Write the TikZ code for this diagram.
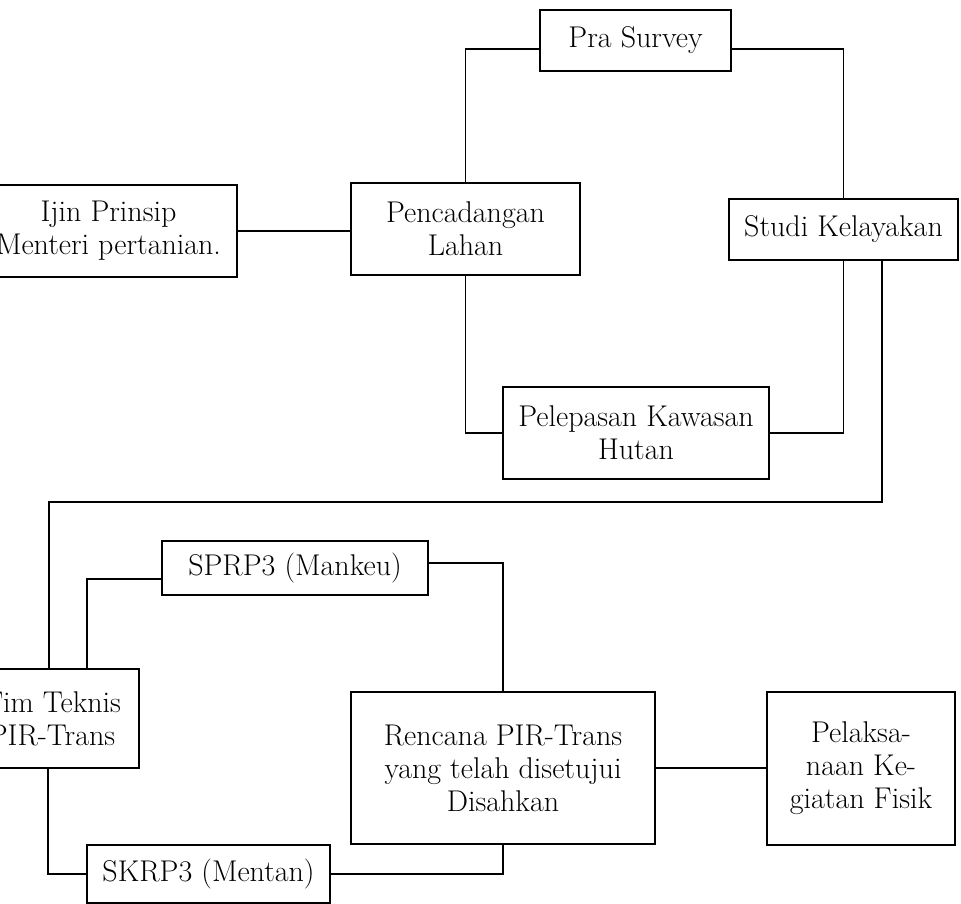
\documentclass[tikz,border=0pt]{standalone}
\begin{document}
\begin{tikzpicture}[x=1pt,y=-1pt,
  box/.style={draw, line width=2.4pt, align=center, inner sep=0pt,
    font=\fontsize{30}{33}\selectfont},
  link/.style={line width=1.8pt}]
\useasboundingbox (0,0) rectangle (961,904);
\clip (0,0) rectangle (961,904);
% boxes
\node[box, minimum width=257pt, minimum height=92pt] (ijin) at (108.5,231) {Ijin Prinsip\\Menteri pertanian.};
\node[box, minimum width=229pt, minimum height=92pt] (penc) at (465.5,229) {Pencadangan\\Lahan};
\node[box, minimum width=191pt, minimum height=61pt] (pra) at (635.5,40.5) {Pra Survey};
\node[box, minimum width=229pt, minimum height=61pt] (studi) at (843.5,229.5) {Studi Kelayakan};
\node[box, minimum width=266pt, minimum height=92pt] (pelep) at (636,433) {Pelepasan Kawasan\\Hutan};
\node[box, minimum width=174pt, minimum height=99pt] (tim) at (52,718.5) {Tim Teknis\\PIR-Trans};
\node[box, minimum width=266pt, minimum height=54pt] (sprp) at (295,568) {SPRP3 (Mankeu)};
\node[box, minimum width=304pt, minimum height=152pt] (renc) at (503,768) {Rencana PIR-Trans\\yang telah disetujui\\Disahkan};
\node[box, minimum width=188pt, minimum height=153pt] (pelak) at (861,768.5) {Pelaksa-\\naan Ke-\\giatan Fisik};
\node[box, minimum width=243pt, minimum height=58pt] (skrp) at (208.5,874) {SKRP3 (Mentan)};
% connectors
\draw[link] (ijin.east) -- (ijin.east -| penc.west);
\draw[link] (penc.north) |- ([yshift=-8.5pt]pra.west);
\draw[link] ([yshift=-8.5pt]pra.east) -| (studi.north);
\draw[link] (penc.south) |- (pelep.west);
\draw[link] (pelep.east) -| (studi.south);
\coordinate (turn) at (49,502);
\draw[link] ([xshift=38.5pt]studi.south) |- (turn) -- (turn |- tim.north);
\draw[link] ([xshift=35pt]tim.north) |- ([yshift=-11pt]sprp.west);
\draw[link] ([yshift=5pt]sprp.east) -| (renc.north);
\draw[link] (renc.south) |- (skrp.east);
\draw[link] ([xshift=-4pt]tim.south) |- (skrp.west);
\draw[link] (renc.east) -- (renc.east -| pelak.west);
\end{tikzpicture}
\end{document}
